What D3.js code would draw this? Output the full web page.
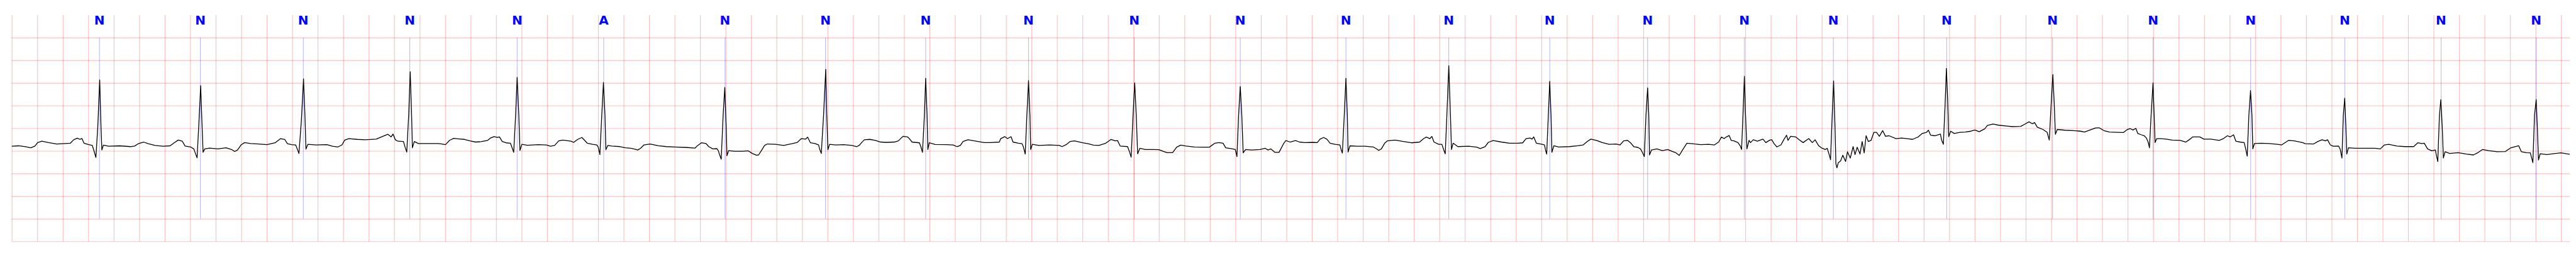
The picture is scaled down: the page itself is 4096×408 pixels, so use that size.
<!DOCTYPE html>
<html>
<head>
<meta charset="utf-8">
<script src="https://cdn.jsdelivr.net/npm/d3@7"></script>
<style>
  html, body { margin: 0; padding: 0; background: #ffffff; }
  svg { display: block; }
</style>
</head>
<body>
<script>
// ---------- data ----------
const durationSec = 20.07;
const yRange = [-2.5, 2.5];
const xGridStep = 0.2;
const yGridValues = [-2.5, -2.0, -1.5, -1.0, -0.5, 0.0, 0.5, 1.0, 1.5, 2.0];

const beatTimes = [0.688, 1.480, 2.287, 3.123, 3.965, 4.644, 5.596, 6.384, 7.170, 7.977,
  8.807, 9.638, 10.467, 11.274, 12.066, 12.834, 13.593, 14.291, 15.180, 16.011,
  16.800, 17.565, 18.303, 19.059, 19.805];
const beatLabels = ["N","N","N","N","N","A","N","N","N","N","N","N","N","N","N","N","N","N","N","N","N","N","N","N","N"];

const ecgTime = [
  0.000,0.054,0.107,0.150,0.182,0.203,0.236,0.289,0.353,0.418,0.460,0.486,0.514,0.535,0.550,0.567,0.600,0.632,0.645,0.660,0.675,0.690,0.700,0.707,0.719,0.760,0.846,0.931,0.964,0.996,1.034,1.071,1.124,1.188,1.242,1.274,1.306,1.338,1.360,1.403,1.428,1.441,1.454,1.469,1.482,1.492,1.501,1.514,1.552,1.617,1.681,1.724,1.749,1.771,1.799,1.827,1.874,1.938,2.002,2.066,2.109,2.141,2.163,2.195,2.227,2.238,2.253,2.272,2.289,2.300,2.308,2.323,2.388,2.473,2.516,2.559,2.591,2.612,2.645,2.709,2.773,2.859,2.912,2.951,2.976,2.991,3.009,3.030,3.073,3.086,3.099,3.114,3.126,3.137,3.143,3.158,3.190,3.265,3.340,
  3.360,3.403,3.435,3.467,3.510,3.552,3.595,3.638,3.681,3.734,3.756,3.784,3.809,3.826,3.848,3.878,3.912,3.927,3.938,3.953,3.965,3.978,3.987,4.002,4.045,4.130,4.194,4.226,4.259,4.291,4.323,4.387,4.408,4.440,4.473,4.494,4.515,4.558,4.590,4.601,4.614,4.629,4.642,4.654,4.661,4.676,4.708,4.772,4.815,4.858,4.890,4.911,4.933,4.960,5.008,5.072,5.136,5.200,5.286,5.361,5.382,5.410,5.446,5.468,5.500,5.532,5.543,5.553,5.566,5.581,5.594,5.605,5.611,5.624,5.671,5.735,5.778,5.810,5.842,5.859,5.881,5.906,5.928,5.992,6.056,6.120,6.163,6.195,6.227,6.244,6.266,6.302,6.330,6.339,6.351,6.369,6.386,6.394,6.403,6.416,6.463,6.527,6.591,6.630,6.651,
  6.667,6.689,6.732,6.774,6.817,6.860,6.924,6.956,6.978,6.993,7.027,7.042,7.063,7.121,7.132,7.145,7.160,7.170,7.181,7.187,7.198,7.245,7.331,7.384,7.416,7.442,7.463,7.502,7.566,7.630,7.673,7.748,7.759,7.791,7.812,7.840,7.855,7.898,7.926,7.936,7.951,7.964,7.977,7.988,7.994,8.007,8.058,8.144,8.219,8.240,8.272,8.304,8.337,8.401,8.444,8.486,8.529,8.583,8.625,8.658,8.675,8.696,8.754,8.769,8.782,8.797,8.810,8.822,8.833,8.850,8.893,8.957,9.000,9.032,9.064,9.107,9.139,9.171,9.214,9.278,9.342,9.396,9.439,9.471,9.503,9.524,9.578,9.599,9.612,9.625,9.638,9.650,9.661,9.680,9.727,9.792,9.834,9.856,9.877,9.909,9.942,9.959,9.980,
  9.996,10.029,10.071,10.103,10.146,10.210,10.242,10.264,10.292,10.317,10.343,10.382,10.420,10.429,10.439,10.454,10.467,10.478,10.484,10.499,10.553,10.617,10.681,10.703,10.724,10.745,10.771,10.792,10.852,10.917,10.981,11.045,11.077,11.098,11.126,11.141,11.158,11.195,11.220,11.233,11.246,11.259,11.274,11.287,11.295,11.308,11.345,11.430,11.494,11.520,11.559,11.584,11.623,11.687,11.751,11.815,11.854,11.880,11.912,11.927,11.940,11.961,12.008,12.025,12.034,12.042,12.055,12.066,12.076,12.083,12.098,12.136,12.222,12.286,12.329,12.361,12.389,12.436,12.479,12.532,12.586,12.618,12.646,12.676,12.703,12.725,12.757,12.778,12.795,12.808,12.821,12.834,12.843,12.849,12.864,12.907,12.949,12.992,13.024,13.057,13.082,13.110,13.142,13.185,13.249,13.313,
  13.358,13.391,13.413,13.434,13.452,13.474,13.489,13.511,13.543,13.561,13.571,13.582,13.593,13.602,13.613,13.630,13.641,13.663,13.695,13.739,13.761,13.793,13.808,13.826,13.848,13.880,13.902,13.924,13.935,13.956,13.995,14.022,14.054,14.098,14.126,14.148,14.174,14.196,14.228,14.243,14.261,14.269,14.282,14.293,14.304,14.311,14.319,14.330,14.348,14.365,14.387,14.402,14.424,14.446,14.461,14.478,14.500,14.517,14.533,14.548,14.565,14.587,14.609,14.630,14.652,14.678,14.700,14.728,14.783,14.826,14.870,14.913,14.957,14.989,15.022,15.037,15.054,15.087,15.131,15.141,15.154,15.168,15.178,15.189,15.196,15.211,15.239,15.283,15.326,15.370,15.402,15.435,15.478,15.500,15.544,15.587,15.652,15.696,15.761,15.794,15.826,15.852,15.870,15.891,15.935,15.968,15.985,16.000,16.013,16.024,16.033,16.048,16.109,16.174,16.229,16.261,16.305,16.348,16.376,16.413,16.457,16.522,16.566,16.598,16.620,16.642,16.664,16.679,
  16.708,16.730,16.747,16.762,16.771,16.784,16.799,16.808,16.815,16.828,16.860,16.904,16.948,17.013,17.057,17.089,17.111,17.166,17.198,17.253,17.318,17.351,17.383,17.405,17.431,17.449,17.482,17.514,17.525,17.538,17.551,17.564,17.575,17.582,17.595,17.645,17.710,17.776,17.808,17.863,17.907,17.972,17.994,18.059,18.092,18.125,18.151,18.168,18.190,18.212,18.255,18.268,18.281,18.292,18.303,18.312,18.319,18.332,18.386,18.473,18.539,18.582,18.615,18.648,18.713,18.778,18.844,18.876,18.909,18.927,18.953,18.985,19.014,19.022,19.033,19.046,19.057,19.068,19.077,19.090,19.127,19.193,19.258,19.312,19.345,19.384,19.432,19.498,19.563,19.607,19.639,19.668,19.689,19.726,19.759,19.766,19.779,19.792,19.805,19.814,19.823,19.836,19.890,19.955,19.999,20.043,20.068
];
const ecgMv = [
  -0.399,-0.389,-0.407,-0.432,-0.394,-0.318,-0.288,-0.318,-0.348,-0.338,-0.331,-0.255,-0.222,-0.247,-0.227,-0.331,-0.361,-0.381,-0.500,-0.646,0.035,1.066,0.035,-0.482,-0.374,-0.399,-0.389,-0.407,-0.394,-0.338,-0.306,-0.343,-0.381,-0.399,-0.389,-0.323,-0.263,-0.288,-0.394,-0.414,-0.457,-0.558,-0.654,0.162,0.939,0.136,-0.533,-0.457,-0.439,-0.457,-0.432,-0.470,-0.515,-0.482,-0.369,-0.318,-0.338,-0.348,-0.364,-0.323,-0.230,-0.247,-0.343,-0.364,-0.369,-0.444,-0.558,0.162,1.088,0.288,-0.462,-0.356,-0.369,-0.364,-0.399,-0.414,-0.369,-0.263,-0.230,-0.247,-0.255,-0.242,-0.179,-0.134,-0.192,-0.129,-0.255,-0.288,-0.293,-0.419,-0.528,0.288,1.245,0.288,-0.432,-0.293,-0.338,-0.338,-0.338,
  -0.343,-0.364,-0.268,-0.225,-0.237,-0.247,-0.280,-0.306,-0.298,-0.268,-0.217,-0.187,-0.205,-0.192,-0.293,-0.323,-0.331,-0.444,-0.533,0.288,1.121,0.288,-0.490,-0.356,-0.376,-0.364,-0.369,-0.399,-0.381,-0.280,-0.263,-0.288,-0.313,-0.247,-0.205,-0.268,-0.331,-0.356,-0.369,-0.419,-0.583,0.288,1.008,0.288,-0.477,-0.381,-0.394,-0.407,-0.432,-0.444,-0.465,-0.482,-0.444,-0.369,-0.348,-0.389,-0.407,-0.414,-0.424,-0.439,-0.381,-0.323,-0.338,-0.407,-0.457,-0.452,-0.495,-0.583,-0.684,0.288,0.899,0.035,-0.609,-0.495,-0.508,-0.508,-0.500,-0.558,-0.596,-0.591,-0.495,-0.381,-0.348,-0.356,-0.381,-0.343,-0.313,-0.230,-0.242,-0.199,-0.323,-0.338,-0.369,-0.470,-0.558,0.288,1.298,0.288,-0.477,-0.356,-0.369,-0.364,-0.381,-0.407,-0.374,
  -0.318,-0.255,-0.247,-0.268,-0.306,-0.313,-0.306,-0.280,-0.217,-0.179,-0.192,-0.230,-0.306,-0.323,-0.407,-0.533,0.288,1.101,0.288,-0.470,-0.323,-0.361,-0.364,-0.369,-0.407,-0.381,-0.293,-0.255,-0.288,-0.318,-0.318,-0.306,-0.230,-0.187,-0.230,-0.187,-0.306,-0.331,-0.343,-0.407,-0.571,0.288,1.051,0.288,-0.470,-0.356,-0.381,-0.369,-0.381,-0.407,-0.364,-0.293,-0.280,-0.323,-0.343,-0.374,-0.381,-0.331,-0.247,-0.280,-0.273,-0.394,-0.407,-0.520,-0.641,0.288,1.000,0.288,-0.566,-0.444,-0.470,-0.470,-0.475,-0.508,-0.540,-0.540,-0.419,-0.374,-0.394,-0.414,-0.419,-0.419,-0.331,-0.318,-0.331,-0.432,-0.457,-0.470,-0.626,0.288,0.919,0.288,-0.545,-0.470,-0.482,-0.470,-0.444,-0.482,-0.457,-0.533,-0.533,-0.444,-0.331,
  -0.273,-0.306,-0.273,-0.306,-0.318,-0.313,-0.318,-0.242,-0.205,-0.242,-0.331,-0.356,-0.369,-0.470,-0.551,0.288,1.101,0.288,-0.525,-0.389,-0.399,-0.399,-0.414,-0.449,-0.490,-0.457,-0.331,-0.280,-0.263,-0.293,-0.323,-0.306,-0.230,-0.197,-0.230,-0.182,-0.306,-0.356,-0.356,-0.470,-0.566,0.288,1.379,0.288,-0.470,-0.331,-0.407,-0.399,-0.419,-0.449,-0.407,-0.313,-0.273,-0.306,-0.331,-0.331,-0.323,-0.230,-0.217,-0.242,-0.192,-0.331,-0.356,-0.369,-0.495,-0.571,0.288,1.033,0.288,-0.533,-0.389,-0.414,-0.407,-0.389,-0.369,-0.293,-0.242,-0.273,-0.318,-0.356,-0.348,-0.369,-0.280,-0.268,-0.331,-0.407,-0.424,-0.457,-0.545,-0.626,0.288,0.889,0.288,-0.591,-0.482,-0.457,-0.495,-0.470,-0.508,-0.545,-0.601,-0.470,-0.331,-0.343,-0.364,-0.356,
  -0.369,-0.306,-0.197,-0.230,-0.192,-0.162,-0.268,-0.280,-0.318,-0.394,-0.470,0.288,1.146,0.288,-0.457,-0.268,-0.318,-0.255,-0.288,-0.242,-0.318,-0.263,-0.255,-0.343,-0.414,-0.369,-0.255,-0.154,-0.268,-0.179,-0.192,-0.255,-0.318,-0.230,-0.318,-0.255,-0.381,-0.432,-0.470,-0.444,-0.609,-0.697,0.288,1.045,0.035,-0.785,-0.874,-0.760,-0.722,-0.596,-0.735,-0.520,-0.659,-0.407,-0.583,-0.419,-0.571,-0.293,-0.545,-0.167,-0.293,-0.268,-0.091,-0.091,-0.179,-0.053,-0.179,-0.167,-0.230,-0.217,-0.230,-0.247,-0.192,-0.116,-0.091,-0.045,-0.154,-0.167,-0.129,-0.268,-0.356,0.540,1.318,0.540,-0.187,-0.066,-0.116,-0.091,-0.086,-0.066,-0.040,-0.078,-0.015,0.061,0.091,0.066,0.048,0.035,0.040,0.091,0.141,0.098,0.124,0.023,-0.028,-0.091,-0.263,0.540,1.184,0.540,-0.136,-0.028,-0.045,-0.053,-0.066,-0.086,-0.040,0.005,0.010,-0.053,-0.086,-0.091,-0.096,-0.028,-0.010,-0.040,-0.003,-0.116,
  -0.146,-0.167,-0.217,-0.318,-0.432,0.288,1.000,0.288,-0.318,-0.230,-0.230,-0.242,-0.263,-0.268,-0.306,-0.242,-0.192,-0.192,-0.242,-0.242,-0.268,-0.230,-0.167,-0.192,-0.146,-0.288,-0.306,-0.318,-0.444,-0.616,0.288,0.831,0.288,-0.457,-0.338,-0.331,-0.338,-0.356,-0.369,-0.268,-0.280,-0.318,-0.343,-0.348,-0.293,-0.255,-0.280,-0.255,-0.369,-0.399,-0.394,-0.470,-0.659,0.288,0.662,0.035,-0.571,-0.432,-0.444,-0.444,-0.444,-0.457,-0.369,-0.356,-0.394,-0.407,-0.407,-0.323,-0.338,-0.331,-0.457,-0.500,-0.482,-0.596,-0.735,0.288,0.629,0.035,-0.659,-0.520,-0.558,-0.540,-0.571,-0.591,-0.545,-0.470,-0.495,-0.520,-0.515,-0.432,-0.407,-0.389,-0.520,-0.540,-0.545,-0.621,-0.760,0.288,0.629,0.035,-0.702,-0.566,-0.583,-0.558,-0.545,-0.566,-0.576
];

// ---------- layout ----------
const W = 4096, H = 408;
const plotLeft = 18.7, plotRight = 4086.4, plotTop = 23.7, plotBottom = 383.3;

const svg = d3.select("body").append("svg")
  .attr("width", W).attr("height", H)
  .style("background", "#ffffff");

const x = d3.scaleLinear().domain([0, durationSec]).range([plotLeft, plotRight]);
const y = d3.scaleLinear().domain(yRange).range([plotBottom, plotTop]);

// vertical grid (every 0.2 s) through a d3 axis
const xTicks = d3.range(0, durationSec + 1e-9, xGridStep).filter(t => t <= 20.0001);
svg.append("g")
  .attr("transform", `translate(0,${plotBottom})`)
  .call(d3.axisBottom(x).tickValues(xTicks).tickSize(-(plotBottom - plotTop)).tickFormat(""))
  .call(g => g.select(".domain").remove())
  .call(g => g.selectAll("line").attr("stroke", "red").attr("stroke-opacity", 0.25).attr("stroke-width", 1.15));

// horizontal grid through a d3 axis
svg.append("g")
  .attr("transform", `translate(${plotLeft},0)`)
  .call(d3.axisLeft(y).tickValues(yGridValues).tickSize(-(plotRight - plotLeft)).tickFormat(""))
  .call(g => g.select(".domain").remove())
  .call(g => g.selectAll("line").attr("stroke", "red").attr("stroke-opacity", 0.25).attr("stroke-width", 1.15));

// annotation lines
svg.append("g").selectAll("line").data(beatTimes).join("line")
  .attr("x1", d => x(d)).attr("x2", d => x(d))
  .attr("y1", y(2.0)).attr("y2", y(-2.0))
  .attr("stroke", "blue").attr("stroke-opacity", 0.5).attr("stroke-width", 0.6);

// ECG trace
const pts = ecgTime.map((t, i) => [t, ecgMv[i]]);
svg.append("path")
  .datum(pts)
  .attr("fill", "none")
  .attr("stroke", "#000000")
  .attr("stroke-width", 1.3)
  .attr("stroke-linejoin", "round")
  .attr("d", d3.line().x(d => x(d[0])).y(d => y(d[1])));

// labels
svg.append("g").selectAll("text").data(beatTimes).join("text")
  .attr("x", d => x(d))
  .attr("y", y(2.293))
  .attr("text-anchor", "middle")
  .attr("font-family", "'DejaVu Sans', sans-serif")
  .attr("font-weight", "bold")
  .attr("font-size", 20)
  .attr("fill", "blue")
  .text((d, i) => beatLabels[i]);
</script>
</body>
</html>
